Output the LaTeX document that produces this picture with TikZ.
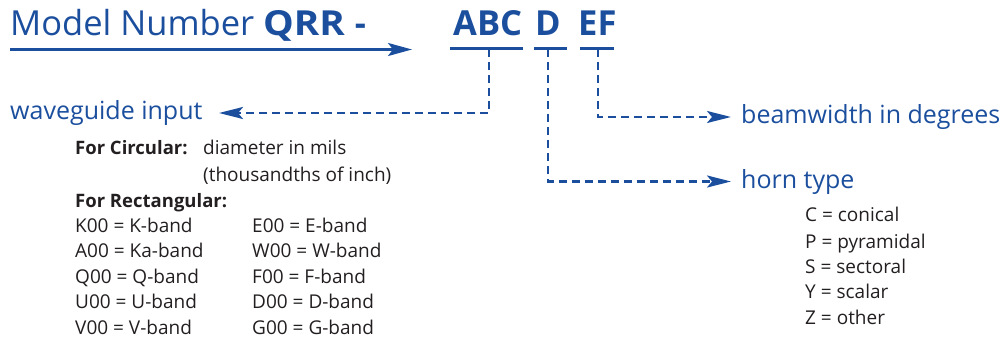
\documentclass[tikz,border=0pt]{standalone}
\usepackage{fontspec}
\setmainfont{Open Sans}
\usetikzlibrary{arrows.meta}
\definecolor{qblue}{RGB}{27,79,158}
\definecolor{qtext}{RGB}{35,31,32}
\begin{document}
\begin{tikzpicture}[x=1pt,y=-1pt,
  bigtxt/.style={anchor=base west,inner sep=0pt,text=qblue,font=\fontsize{34.5}{40}\selectfont},
  codetxt/.style={anchor=base west,inner sep=0pt,text=qblue,font=\fontsize{34.5}{40}\selectfont\bfseries},
  labtxt/.style={anchor=base west,inner sep=0pt,text=qblue,font=\fontsize{25}{30}\selectfont},
  bodytxt/.style={anchor=base west,inner sep=0pt,text=qtext,font=\fontsize{19}{23}\selectfont},
  bodybold/.style={anchor=base west,inner sep=0pt,text=qtext,font=\fontsize{18.5}{23}\selectfont\bfseries},
  uline/.style={draw=qblue,line width=3pt},
  mainarrow/.style={draw=qblue,line width=2.5pt,-{Stealth[length=24pt,width=13pt,inset=5pt]}},
  dasharrow/.style={draw=qblue,line width=2.5pt,line join=miter,dash pattern=on 8pt off 5pt,-{Stealth[length=24pt,width=12pt,inset=5pt]}},
]
\useasboundingbox (0,0) rectangle (1000,339);

% title line
\node[bigtxt] (model) at (10,36) {Model Number \scalebox{1.12}[1]{\textbf{QRR}}\hspace{10pt}\textbf{-}};
\node[codetxt] (abc) at (453,36) {ABC};
\node[codetxt] (d) at (535,36) {D};
\node[codetxt] (ef) at (578,36) {EF};

\coordinate (mstart) at (10,49.5);
\coordinate (mtip) at (412,49.5);
\draw[mainarrow] (mstart) -- (mtip);

% underlines
\draw[uline] (450,49) -- (523,49);
\draw[uline] (534,49) -- (567,49);
\draw[uline] (580,49) -- (614,49);

\coordinate (abcU) at (489,49);
\coordinate (dU) at (548,49);
\coordinate (efU) at (598,49);

% labels
\node[labtxt] (wg) at (10,120) {waveguide input};
\node[labtxt] (bw) at (741,124) {beamwidth in degrees};
\node[labtxt] (ht) at (741,188) {horn type};

\coordinate (wgtip) at (219,113);
\coordinate (bwtip) at (731,117);
\coordinate (httip) at (731,181.5);

\draw[dasharrow] (abcU) |- (wgtip);
\draw[dasharrow] (efU) |- (bwtip);
\draw[dasharrow] (dU) |- (httip);

% waveguide details
\node[bodybold] (fc) at (75,155) {For Circular:};
\node[bodytxt] (dm) at (203,155) {diameter in mils};
\node[bodytxt] (th) at (203,182) {(thousandths of inch)};
\node[bodybold] (fr) at (75,207) {For Rectangular:};
\node[bodytxt] (k) at (75,232) {K00 = K-band};
\node[bodytxt] (a) at (75,257.5) {A00 = Ka-band};
\node[bodytxt] (q) at (75,283) {Q00 = Q-band};
\node[bodytxt] (u) at (75,308.5) {U00 = U-band};
\node[bodytxt] (v) at (75,334) {V00 = V-band};
\node[bodytxt] (e) at (252,232) {E00 = E-band};
\node[bodytxt] (w) at (252,257.5) {W00 = W-band};
\node[bodytxt] (f) at (252,283) {F00 = F-band};
\node[bodytxt] (dd) at (252,308.5) {D00 = D-band};
\node[bodytxt] (g) at (252,334) {G00 = G-band};

% horn types
\node[bodytxt] (hc) at (805,221) {C = conical};
\node[bodytxt] (hp) at (805,248) {P = pyramidal};
\node[bodytxt] (hs) at (805,273) {S = sectoral};
\node[bodytxt] (hy) at (805,298.5) {Y = scalar};
\node[bodytxt] (hz) at (805,324) {Z = other};
\end{tikzpicture}
\end{document}
